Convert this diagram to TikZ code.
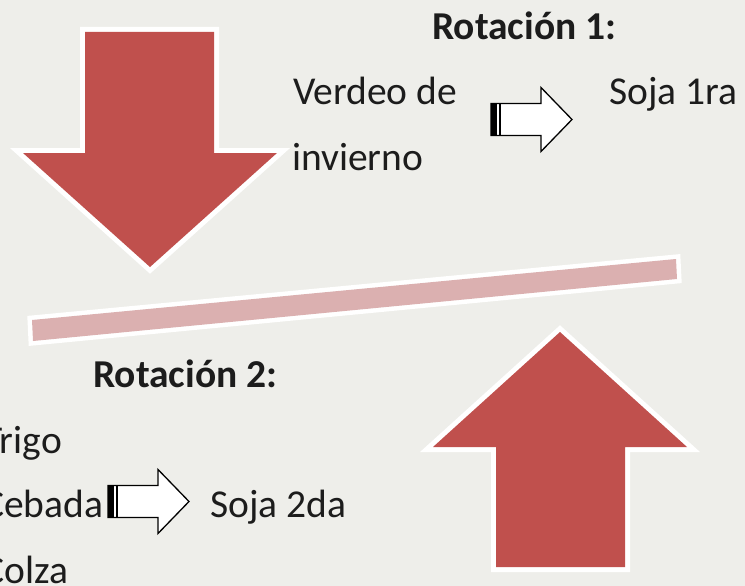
\documentclass[tikz,border=0pt]{standalone}
\usepackage{fontspec}
\setmainfont{Carlito}
\usepackage{tikz}
\definecolor{arrowred}{HTML}{C0504D}
\definecolor{barpink}{HTML}{DBB0B0}
\definecolor{paper}{HTML}{EEEEEA}
\definecolor{ink}{HTML}{1C1C1C}
\tikzset{
  bigarrow/.style = {fill=arrowred,preaction={draw=white,line width=10pt,line join=miter}},
  divider/.style  = {fill=barpink,preaction={draw=white,line width=9pt,line join=miter}},
  plainlbl/.style = {font=\fontsize{39.5}{47}\selectfont,text=ink,anchor=base west,inner sep=0pt},
  titlelbl/.style = {plainlbl,font=\fontsize{39.5}{47}\selectfont\bfseries}
}
% striped outline arrow, #1 = left end, #2 = centre line
\newcommand{\stripearrow}[2]{%
  \draw[fill=white,line width=1.3pt,line join=miter]
    (#1,#2-16) -- (#1+50,#2-16) -- (#1+50,#2-32) -- (#1+81,#2)
    -- (#1+50,#2+32) -- (#1+50,#2+16) -- (#1,#2+16) -- cycle;
  \fill[black] (#1,#2-16) rectangle (#1+6,#2+16);
  \draw[line width=1.3pt] (#1+9,#2-16) -- (#1+9,#2+16);
}

\begin{document}
\begin{tikzpicture}[x=1pt,y=-1pt]
  \useasboundingbox (0,0) rectangle (745,586);
  \fill[paper] (0,0) rectangle (745,586);
  % the two big arrows and the bar
  \path[bigarrow] (85,32) -- (214,32) -- (214,153) -- (277,153) -- (150,267)
    -- (23,153) -- (85,153) -- cycle;
  \path[bigarrow] (496,567) -- (625,567) -- (625,447) -- (687,447) -- (560,332)
    -- (433,447) -- (496,447) -- cycle;
  \path[divider] (32,320) -- (676,259) -- (677,279) -- (33,341) -- cycle;
  % rotation 1
  \node[titlelbl] (rot1) at (432,40) {Rotación 1:};
  \node[plainlbl] (verdeo) at (293,105) {Verdeo de};
  \node[plainlbl] (invierno) at (292,170) {invierno};
  \node[plainlbl] (soja1) at (609,105) {Soja 1ra};
  \stripearrow{491}{119.5}
  % rotation 2
  \node[titlelbl] (rot2) at (93,387) {Rotación 2:};
  \node[plainlbl] (trigo) at (-17,453) {Trigo};
  \node[plainlbl] (cebada) at (-17,517) {Cebada};
  \node[plainlbl] (colza) at (-17,583) {Colza};
  \node[plainlbl] (soja2) at (210,517) {Soja 2da};
  \stripearrow{108}{501.5}
\end{tikzpicture}
\end{document}
